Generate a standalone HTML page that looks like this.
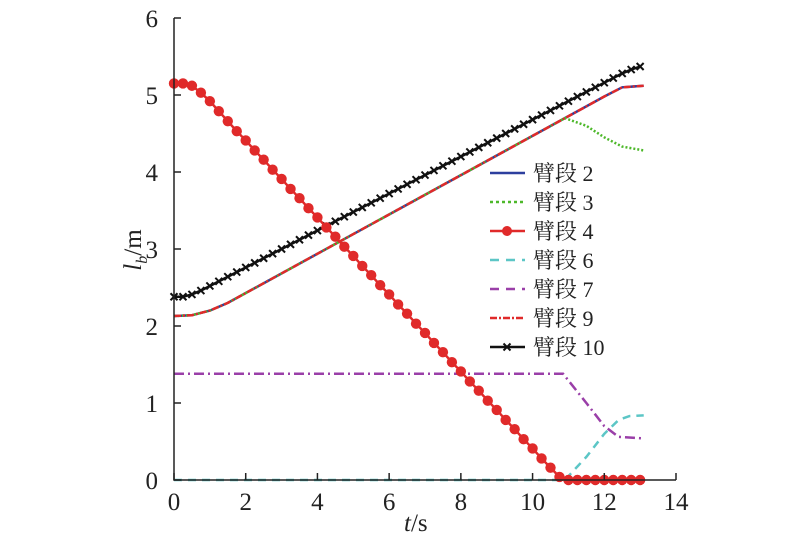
<!DOCTYPE html>
<html><head><meta charset="utf-8"><style>
body{margin:0;background:#fff}
svg text{font-family:"Liberation Serif","Noto Serif CJK SC",serif;fill:#222}
</style></head><body>
<svg id="chart" width="800" height="551" viewBox="0 0 800 551" xmlns="http://www.w3.org/2000/svg">
<g id="plot"></g>
<g id="axes"></g>
<g id="legend"></g>
</svg>
<script>
const xTicks=[0,2,4,6,8,10,12,14];
const yTicks=[0,1,2,3,4,5,6];
const tDense=[0,0.25,0.5,0.75,1,1.25,1.5,1.75,2,2.25,2.5,2.75,3,3.25,3.5,3.75,4,4.25,4.5,4.75,5,5.25,5.5,5.75,6,6.25,6.5,6.75,7,7.25,7.5,7.75,8,8.25,8.5,8.75,9,9.25,9.5,9.75,10,10.25,10.5,10.75,11,11.25,11.5,11.75,12,12.25,12.5,12.75,13];
const seg4=[5.15,5.15,5.12,5.03,4.92,4.79,4.66,4.53,4.41,4.28,4.16,4.03,3.91,3.78,3.66,3.53,3.41,3.28,3.16,3.03,2.91,2.78,2.66,2.53,2.41,2.28,2.16,2.03,1.91,1.78,1.66,1.53,1.41,1.28,1.16,1.03,0.91,0.78,0.66,0.53,0.41,0.28,0.16,0.04,0,0,0,0,0,0,0,0,0];
const seg10=[2.38,2.38,2.41,2.46,2.52,2.58,2.64,2.70,2.76,2.82,2.88,2.94,3.00,3.06,3.12,3.18,3.24,3.30,3.36,3.42,3.48,3.54,3.60,3.66,3.72,3.78,3.84,3.90,3.96,4.02,4.08,4.14,4.20,4.26,4.32,4.38,4.44,4.50,4.56,4.62,4.68,4.74,4.80,4.86,4.92,4.98,5.04,5.10,5.16,5.22,5.28,5.33,5.37];
const t2=[0,0.5,1,1.5,12,12.5,13.1];
const seg2=[2.13,2.14,2.2,2.3,4.98,5.1,5.12];
const seg9=[2.13,2.14,2.2,2.3,4.98,5.1,5.12];
const t3=[0,0.5,1,1.5,10.9,11.5,12,12.5,13.1];
const seg3=[2.13,2.14,2.2,2.3,4.70,4.6,4.45,4.33,4.28];
const t6=[0,10.9,11.5,12,12.4,12.7,13.1];
const seg6=[0,0,0.3,0.6,0.78,0.83,0.84];
const t7=[0,10.85,11.5,12,12.4,13.1];
const seg7=[1.38,1.38,1.0,0.7,0.56,0.54];

const NS="http://www.w3.org/2000/svg";
const X0=174,XS=(676-174)/14,Y0=480,YS=77;
const sx=v=>X0+v*XS, sy=v=>Y0-v*YS;
function mk(tag,attrs,parent){const e=document.createElementNS(NS,tag);for(const k in attrs)e.setAttribute(k,attrs[k]);parent.appendChild(e);return e;}
const plot=document.getElementById('plot'),axes=document.getElementById('axes'),legend=document.getElementById('legend');

function line(ts,vs,color,dash,name){
  const p=mk('polyline',{points:ts.map((t,i)=>sx(t)+','+sy(vs[i])).join(' '),fill:'none',stroke:color,'stroke-width':2.5,'stroke-dasharray':dash||'none'},plot);
  
  
}
line(t7,seg7,'#9a3fa8','10,4,2,4','line-seg7');
line(t6,seg6,'#5cc6c6','8,6','line-seg6');
line(t2,seg2,'#2d3f9e','','line-seg2');
line(t3,seg3,'#4db82a','2,2','line-seg3');
line(t2,seg9,'#e02a2a','7,2,2,2','line-seg9');
line(tDense,seg10,'#111','','line-seg10');
tDense.forEach((t,i)=>{
  const g=mk('path',{d:`M${sx(t)-3.5},${sy(seg10[i])-3.5}l7,7M${sx(t)-3.5},${sy(seg10[i])+3.5}l7,-7`,stroke:'#111','stroke-width':2},plot);
  
  
});
line(tDense,seg4,'#e02a2a','','line-seg4');
tDense.forEach((t,i)=>{
  const c=mk('circle',{cx:sx(t),cy:sy(seg4[i]),r:5.2,fill:'#e02a2a'},plot);
  
  
});

const ax=mk('path',{d:`M${sx(0)},${sy(6)}V${Y0}H${sx(14)}`,fill:'none',stroke:'#222','stroke-width':1.5},axes);


xTicks.forEach(v=>{
  const tk=mk('line',{x1:sx(v),x2:sx(v),y1:Y0,y2:Y0-7,stroke:'#222','stroke-width':1.5},axes);
  
  
  const tx=mk('text',{x:sx(v),y:Y0+30,'text-anchor':'middle','font-size':25},axes);tx.textContent=v;
  
  
});
yTicks.forEach(v=>{
  const tk=mk('line',{x1:X0,x2:X0+7,y1:sy(v),y2:sy(v),stroke:'#222','stroke-width':1.5},axes);
  
  
  const tx=mk('text',{x:X0-16,y:sy(v)+9,'text-anchor':'end','font-size':25},axes);tx.textContent=v;
  
  
});
const legNames=['臂段 2','臂段 3','臂段 4','臂段 6','臂段 7','臂段 9','臂段 10'];
const legColors=['#2d3f9e','#4db82a','#e02a2a','#5cc6c6','#9a3fa8','#e02a2a','#111'];
const legDash=['none','3,3','none','9,7','9,7','7,2,2,2','none'];
legNames.forEach((n,i)=>{
  const y=173+i*29;
  const l=mk('line',{x1:490,x2:525,y1:y,y2:y,stroke:legColors[i],'stroke-width':2.5,'stroke-dasharray':legDash[i]},legend);
  
  
  if(i==2){const c=mk('circle',{cx:507,cy:y,r:5,fill:legColors[i]},legend);
    
    }
  if(i==6){const c=mk('path',{d:`M503.5,${y-3.5}l7,7M503.5,${y+3.5}l7,-7`,stroke:'#111','stroke-width':2},legend);
    
    }
  const t=mk('text',{x:533,y:y+8,'font-size':22},legend);t.textContent=n;
  
  
});
</script>
<div style="position:absolute;left:404px;top:510px;font:25px 'Liberation Serif',serif;color:#222"><i>t</i>/s</div>
<div style="position:absolute;left:98px;top:234px;font:25px 'Liberation Serif',serif;color:#222;transform:rotate(-90deg);transform-origin:center;width:76px;text-align:center"><i>l<sub style="font-size:16px">b</sub></i>/m</div>
</body></html>
